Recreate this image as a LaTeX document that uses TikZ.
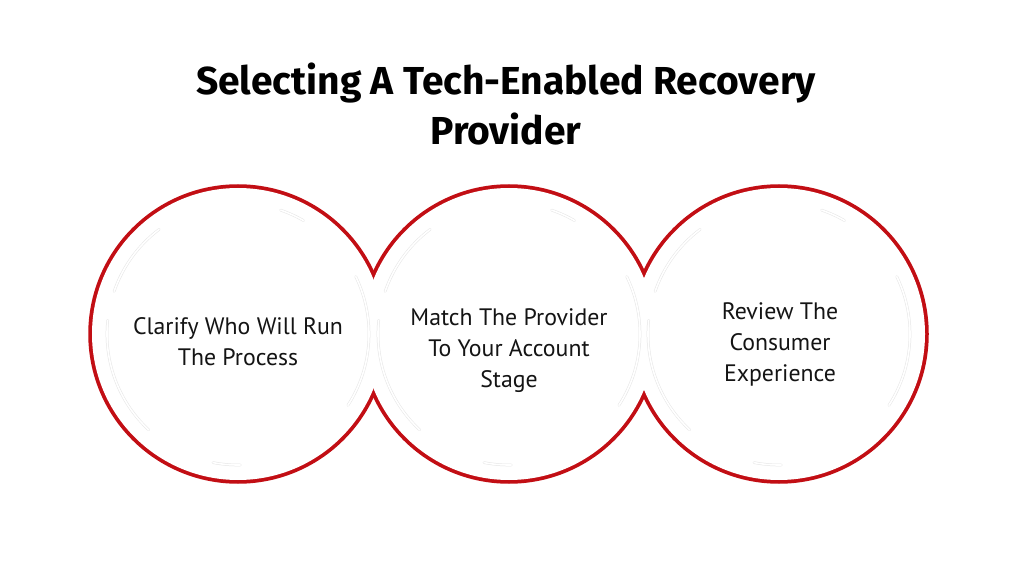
\documentclass[tikz,border=0pt]{standalone}
\usepackage{fontspec}
\setmainfont{PT Sans}
\newfontfamily\titlefont{Fira Sans}
\definecolor{ringred}{RGB}{194,14,20}

\begin{document}
\begin{tikzpicture}[x=1pt, y=-1pt,
    ring/.style={draw=ringred, line width=7.5pt},
    faint/.style={draw=black!10, line width=0.5pt, double=white, double distance=1.6pt, line cap=round},
    steptext/.style={align=center, text=black!92, font=\fontsize{23.8}{31}\selectfont}]
    % --- canvas and parameters ---
    \def\R{146}      % ring radius
    \def\r{131}      % faint inner arcs
    \def\cy{334}     % centre line of the rings
    \useasboundingbox (0,0) rectangle (1012,569);
    \fill[white] (0,0) rectangle (1012,569);

    % --- title ---
    \node[align=center, font=\titlefont\bfseries\fontsize{39}{50}\selectfont] (title) at (506,104)
        {Selecting A Tech-Enabled Recovery\\Provider};

    % --- ring centres ---
    \coordinate (c1) at (238,\cy);
    \coordinate (c2) at (509,\cy);
    \coordinate (c3) at (779,\cy);

    % --- red outline of the three rings (outer part only) ---
    \foreach \n in {1,2,3} \draw[ring] (c\n) circle (\R pt);
    \foreach \n in {1,2,3} \fill[white] (c\n) circle (\R pt);

    % --- faint inner arcs ---
    \foreach \n in {1,2,3} {
        \foreach \a/\b in {127/161, 60/71, 174/227, -33/26, 259/271}
            \draw[faint] ([shift={(\a:\r pt)}]c\n) arc[start angle=\a, end angle=\b, radius=\r pt];
    }

    % --- step labels ---
    \node[steptext] (t1) at (238,342) {Clarify Who Will Run\\The Process};
    \node[steptext] (t2) at (509,351) {Match The Provider\\To Your Account\\Stage};
    \node[steptext] (t3) at (780,344) {Review The\\Consumer\\Experience};
\end{tikzpicture}
\end{document}
